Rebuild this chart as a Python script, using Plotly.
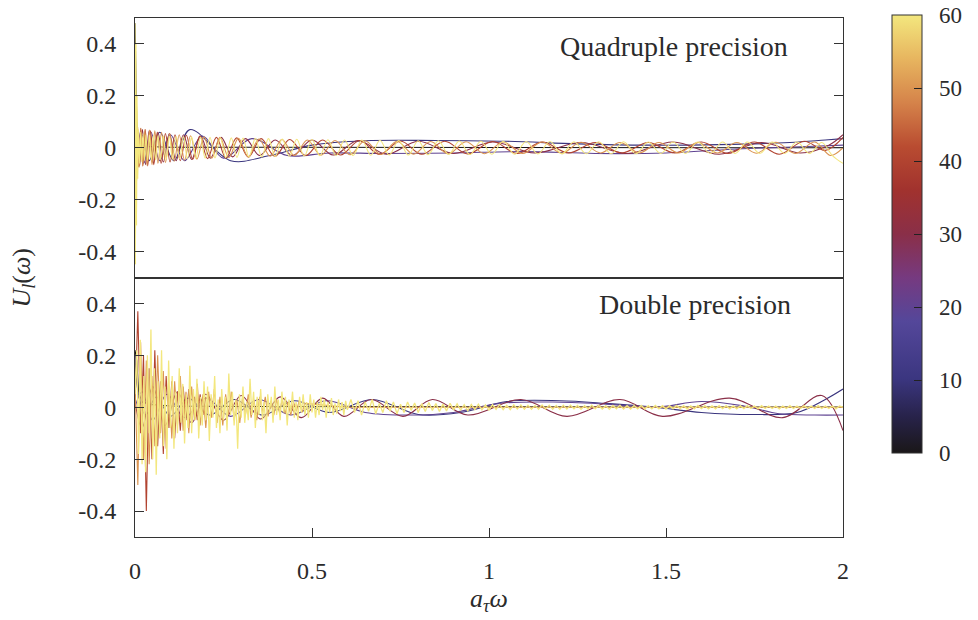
import numpy as np
import plotly.graph_objects as go
from plotly.subplots import make_subplots
from plotly.colors import sample_colorscale

# ---------------- data ----------------
L_MAX = 60
cbar_ticks = [0, 10, 20, 30, 40, 50, 60]
x_ticks = [0, 0.5, 1, 1.5, 2]
x_ticktext = ["0", "0.5", "1", "1.5", "2"]
y_ticks = [-0.4, -0.2, 0, 0.2, 0.4]
y_ticktext = ["-0.4", "-0.2", "0", "0.2", "0.4"]

# colour map (black -> blue -> purple -> red -> orange -> yellow)
cmap = [[0.0, "#1a1718"], [0.08, "#272248"], [0.17, "#3b3680"], [0.3, "#54479a"],
        [0.4, "#763a80"], [0.5, "#8a2f48"], [0.6, "#a1322e"], [0.7, "#b94c31"],
        [0.8, "#d5834a"], [0.9, "#e7b55f"], [1.0, "#f3e77e"]]

# ---- Quadruple precision panel: (l, x of extrema, y of extrema) ----
q0_x = [0, 0.002, 0.005, 0.01, 0.03, 0.1, 0.5, 1.0, 1.5, 2.0]
q0_y = [0.48, 0.3, 0.1, 0.02, 0.005, 0.002, 0.001, 0.0, 0.0, 0.0]

q10_x = [0.0, 0.008, 0.02, 0.04, 0.07, 0.11, 0.155, 0.27, 0.38, 0.5, 0.65, 0.85,
         1.05, 1.25, 1.45, 1.65, 1.85, 1.95, 2.0]
q10_y = [0.1, -0.03, 0.05, -0.05, 0.06, -0.05, 0.07, -0.05, -0.03, 0.01, 0.027, 0.028,
         0.025, 0.015, 0.01, 0.012, 0.02, 0.03, 0.035]

q20_x = [0, 0.01, 0.025, 0.045, 0.07, 0.1, 0.14, 0.19, 0.25, 0.33, 0.43, 0.55, 0.7,
         0.9, 1.1, 1.3, 1.5, 1.7, 1.9, 2.0]
q20_y = [-0.1, 0.06, -0.06, 0.06, -0.05, 0.05, -0.05, 0.045, -0.04, 0.035, -0.03, -0.02,
         -0.022, -0.02, -0.015, -0.022, -0.02, -0.005, 0.005, 0.01]

q30_x = [0, .006, .013, .021, .03, .04, .052, .065, .08, .097, .116, .137, .16, .185,
         .213, .243, .276, .312, .352, .396, .445, .5, .56, .63, .71, .8, .9, 1.01, 1.13,
         1.26, 1.39, 1.52, 1.65, 1.77, 1.88, 1.96, 2.0]
q30_y = [0.0, .07, -.07, .07, -.065, .065, -.06, .06, -.055, .055, -.05, .05, -.045, .045,
         -.04, .04, -.035, .035, -.03, .03, -.03, .03, -.028, .028, -.025, .025, -.022, .022,
         -.02, .02, -.022, .022, -.025, .02, -.02, .01, .05]

q40_x = [0, .005, .01, .016, .022, .029, .036, .044, .053, .063, .074, .086, .099, .113,
         .128, .145, .163, .183, .205, .23, .257, .287, .32, .356, .395, .437, .482, .53,
         .58, .635, .69, .75, .81, .875, .94, 1.01, 1.08, 1.15, 1.225, 1.3, 1.375, 1.45,
         1.525, 1.6, 1.675, 1.75, 1.82, 1.89, 1.95, 2.0]
q40_y = [-0.1, .075, -.075, .075, -.07, .07, -.07, .065, -.065, .06, -.06, .055, -.055, .05,
         -.05, .048, -.045, .045, -.042, .04, -.04, .038, -.036, .035, -.033, .032, -.03, .03,
         -.028, .028, -.026, .026, -.025, .025, -.024, .024, -.022, .022, -.02, .02, -.02, .02,
         -.02, .022, -.022, .022, -.025, .025, -.01, .04]

q50_x = [0, .004, .008, .012, .017, .022, .028, .034, .041, .048, .056, .065, .075, .086,
         .098, .111, .125, .14, .157, .175, .195, .217, .24, .265, .292, .32, .35, .382,
         .415, .45, .487, .525, .565, .607, .65, .695, .74, .787, .835, .885, .935, .987,
         1.04, 1.095, 1.15, 1.205, 1.26, 1.315, 1.37, 1.425, 1.48, 1.535, 1.59, 1.645, 1.7,
         1.755, 1.81, 1.865, 1.92, 1.965, 2.0]
q50_y = [0.2, -.15, .08, -.075, .075, -.07, .07, -.068, .068, -.065, .065, -.06, .06, -.057,
         .055, -.052, .05, -.048, .046, -.044, .042, -.04, .04, -.038, .036, -.035, .034,
         -.033, .032, -.03, .03, -.029, .028, -.027, .027, -.026, .025, -.025, .024, -.024,
         .023, -.023, .022, -.022, .022, -.021, .021, -.02, .02, -.02, .02, -.02, .02, -.02,
         .02, -.021, .021, -.022, .022, -.03, 0.0]

q60_x = [0, .0015, .003, .0045, .006, .008, .01, .013, .016, .019,
         .023, .027, .031, .036, .041, .046, .052, .058, .065, .072,
         .08, .088, .097, .106, .116, .126, .137, .148, .16, .172,
         .185, .198, .212, .226, .241, .256, .272, .288, .305, .322,
         .34, .358, .377, .396, .416, .436, .457, .478, .5, .522,
         .545, .568, .592, .616, .641, .666, .692, .718, .745, .772,
         .8, .828, .857, .886, .916, .946, .977, 1.008, 1.04, 1.072,
         1.105, 1.138, 1.172, 1.206, 1.24, 1.275, 1.31, 1.345, 1.38, 1.415,
         1.45, 1.485, 1.52, 1.555, 1.59, 1.625, 1.66, 1.695, 1.73, 1.765,
         1.8, 1.835, 1.87, 1.905, 1.94, 1.97, 2.0]
q60_y = [0.48, -0.45, 0.4, -0.3, 0.2, -0.12, 0.07, -0.06, 0.06, -0.055,
         .055, -.05, .05, -.05, .05, -.048, .048, -.047, .047, -.046,
         .046, -.045, .045, -.044, .044, -.043, .043, -.042, .042, -.041,
         .041, -.04, .04, -.039, .039, -.038, .038, -.037, .037, -.036,
         .036, -.035, .035, -.034, .034, -.033, .033, -.032, .032, -.031,
         .031, -.03, .03, -.03, .03, -.029, .029, -.028, .028, -.028,
         .027, -.027, .027, -.026, .026, -.026, .025, -.025, .025, -.025,
         .024, -.024, .024, -.024, .023, -.023, .023, -.023, .023, -.023,
         .022, -.022, .022, -.022, .022, -.022, .022, -.022, .022, -.022,
         .022, -.022, .022, -.022, .02, -.03, -.06]

# ---- Double precision panel ----
d0_x = [0, 0.005, 0.01, 0.02, 0.05, 0.1, 0.3, 0.6, 1.0, 1.5, 2.0]
d0_y = [0.22, 0.18, 0.06, 0.02, 0.01, 0.005, 0.003, 0.002, 0.001, 0.001, 0.001]

d10_x = [0.0, 0.01, 0.03, 0.06, 0.1, 0.15, 0.21, 0.28, 0.36, 0.45, 0.55, 0.67, 0.8, 0.92,
         1.05, 1.2, 1.33, 1.47, 1.6, 1.75, 1.87, 1.95, 2.0]
d10_y = [0.2, 0.05, -0.03, 0.04, -0.035, 0.035, -0.03, 0.03, -0.03, 0.025, -0.02, 0.03,
         -0.028, -0.02, 0.022, 0.025, 0.015, 0.0, -0.02, -0.028, -0.02, 0.03, 0.07]

d20_x = [0.0, 0.02, 0.05, 0.09, 0.14, 0.2, 0.27, 0.35, 0.44, 0.54, 0.65, 0.78, 0.9, 1.03,
         1.18, 1.33, 1.47, 1.6, 1.72, 1.82, 1.92, 2.0]
d20_y = [0.0, 0.06, -0.05, 0.05, -0.04, 0.035, -0.035, 0.03, -0.03, 0.025, -0.02, -0.03,
         -0.02, 0.015, 0.02, 0.012, 0.0, 0.022, 0.005, -0.025, -0.03, -0.03]

d30_x = [0.0, 0.02, 0.05, 0.085, 0.12, 0.16, 0.2, 0.25, 0.3, 0.355, 0.41, 0.47, 0.53, 0.59,
         0.667, 0.757, 0.84, 0.94, 1.09, 1.22, 1.37, 1.49, 1.68, 1.83, 1.94, 2.0]
d30_y = [0.02, -0.08, 0.08, -0.07, 0.06, -0.06, 0.05, -0.05, 0.045, -0.045, 0.04, -0.04,
         0.035, -0.035, 0.03, -0.035, 0.03, -0.03, 0.03, -0.035, 0.03, -0.035, 0.035, -0.04,
         0.045, -0.09]

# noisy (round-off dominated) curves, sampled on a uniform grid
d40_noise = [0.0, 0.37, -0.1, 0.2, -0.4, 0.15, -0.2, 0.22, -0.15, 0.1, -0.18, 0.12, -0.08,
             0.1, -0.12, 0.06, -0.09, 0.08, -0.05, 0.07, -0.06, 0.04, -0.05, 0.05, -0.03, 0.04]
d40_noise_end = 0.2

d50_noise = [0.1, -0.3, 0.25, -0.2, 0.18, -0.22, 0.12, -0.15, 0.2, -0.1, 0.14, -0.16, 0.08,
             -0.12, 0.1, -0.07, 0.12, -0.09, 0.06, -0.1, 0.08, -0.05, 0.09, -0.07, 0.05, -0.08,
             0.06, -0.04, 0.07, -0.06, 0.04, -0.07, 0.05, -0.03, 0.06, -0.05, 0.03, -0.06, 0.04,
             -0.03, 0.05, -0.04, 0.03, -0.05, 0.04, -0.02, 0.04, -0.035, 0.025, -0.03, 0.03,
             -0.02, 0.03, -0.025, 0.02, -0.03, 0.02, -0.015, 0.025, -0.02, 0.015]
d50_noise_end = 0.48

d60_noise = [0.05, 0.22, -0.18, 0.26, -0.22, 0.12, -0.25, 0.2, -0.1, 0.3,
             -0.2, 0.15, -0.26, 0.1, -0.12, 0.22, -0.15, 0.08, -0.2, 0.18,
             -0.08, 0.12, -0.16, 0.06, -0.1, 0.15, -0.06, 0.09, -0.14, 0.05,
             -0.08, 0.16, -0.1, 0.07, -0.05, 0.11, -0.12, 0.04, -0.07, 0.1,
             -0.05, 0.08, -0.13, 0.05, -0.04, 0.12, -0.08, 0.03, -0.1, 0.07,
             -0.05, 0.04, -0.09, 0.13, -0.03, 0.06, -0.07, 0.03, -0.16, 0.05,
             -0.04, 0.08, -0.06, 0.02, -0.05, 0.11, -0.03, 0.06, -0.08, 0.04,
             -0.03, 0.07, -0.05, 0.02, -0.1, 0.05, -0.02, 0.04, -0.06, 0.08,
             -0.03, 0.03, -0.05, 0.06, -0.02, 0.04, -0.07, 0.03, -0.02, 0.06,
             -0.04, 0.02, -0.05, 0.04, -0.02, 0.05, -0.03, 0.02, -0.04, 0.05,
             -0.02, 0.03, -0.04, 0.02, -0.03, 0.04, -0.01, 0.03, -0.04, 0.02,
             -0.02, 0.035, -0.03, 0.015, -0.025, 0.03, -0.015, 0.02, -0.03, 0.025,
             -0.01]
d60_noise_end = 0.6
d60_tail = [0.03, -0.02, 0.025, -0.03, 0.02, -0.015, 0.03, -0.025, 0.015, -0.02,
            0.025, -0.015, 0.02, -0.025, 0.012, -0.02, 0.02, -0.012, 0.016, -0.02,
            0.014, -0.016, 0.018, -0.012, 0.014, -0.016, 0.012, -0.014, 0.015, -0.01,
            0.013, -0.011, 0.01, -0.013, 0.011, -0.009, 0.012, -0.01, 0.009, -0.011,
            0.01, -0.008, 0.01, -0.009, 0.008, -0.009, 0.009, -0.007, 0.009, -0.008,
            0.008, -0.008, 0.007, -0.008, 0.009, -0.007, 0.008, -0.008, 0.007, -0.008,
            0.008, -0.007, 0.008, -0.006, 0.007, -0.008, 0.006, -0.007, 0.008, -0.006,
            0.007, -0.007, 0.006, -0.008, 0.007, -0.006, 0.008, -0.007, 0.006, -0.007,
            0.007, -0.006, 0.007, -0.007, 0.006, -0.006, 0.007, -0.006, 0.006, -0.007,
            0.006, -0.006, 0.007, -0.005, 0.006, -0.007, 0.005, -0.006, 0.007, -0.005,
            0.006, -0.006, 0.005, -0.006, 0.006, -0.005, 0.006, -0.006, 0.005, -0.006,
            0.006, -0.005, 0.006, -0.005, 0.005, -0.006, 0.006, -0.005, 0.005, -0.005,
            0.005, -0.006, 0.005, -0.005, 0.006, -0.005, 0.005, -0.005, 0.006, -0.005,
            0.005, -0.005, 0.006, -0.005, 0.005, -0.005, 0.005, -0.006, 0.005, 0.0]
d60_tail_start, d60_tail_end = 0.61, 2.0

# ---------------- figure ----------------
W, H = 978, 620
ML, MR, MT, MB = 135, 135, 18, 83
FONT = "Liberation Serif"
TXT = "#2b2b2b"
NBSP = "\u00a0"


def col(l):
    return sample_colorscale(cmap, [l / L_MAX])[0]


fig = make_subplots(rows=2, cols=1, shared_xaxes=True, vertical_spacing=0.0)

top = [(0, q0_x, q0_y, "linear"), (10, q10_x, q10_y, "spline"), (20, q20_x, q20_y, "spline"),
       (30, q30_x, q30_y, "spline"), (40, q40_x, q40_y, "spline"), (50, q50_x, q50_y, "spline"),
       (60, q60_x, q60_y, "spline")]
for l, xs, ys, shp in top:
    fig.add_trace(go.Scatter(x=xs, y=ys, mode="lines", line=dict(color=col(l), width=1.1, shape=shp),
                             showlegend=False, hoverinfo="skip"), row=1, col=1)

# bottom panel
fig.add_trace(go.Scatter(x=d0_x, y=d0_y, mode="lines", line=dict(color=col(0), width=1.1),
                         showlegend=False, hoverinfo="skip"), row=2, col=1)
for l, xs, ys in [(10, d10_x, d10_y), (20, d20_x, d20_y), (30, d30_x, d30_y)]:
    fig.add_trace(go.Scatter(x=xs, y=ys, mode="lines", line=dict(color=col(l), width=1.1, shape="spline"),
                             showlegend=False, hoverinfo="skip"), row=2, col=1)

fig.add_trace(go.Scatter(x=np.linspace(0, d40_noise_end, len(d40_noise)), y=d40_noise, mode="lines",
                         line=dict(color=col(40), width=1.1), showlegend=False, hoverinfo="skip"),
              row=2, col=1)
x50 = list(np.linspace(0, d50_noise_end, len(d50_noise))) + [0.6, 1.0, 2.0]
y50 = d50_noise + [0.0, 0.0, 0.0]
fig.add_trace(go.Scatter(x=x50, y=y50, mode="lines", line=dict(color=col(50), width=1.1),
                         showlegend=False, hoverinfo="skip"), row=2, col=1)
x60 = list(np.linspace(0, d60_noise_end, len(d60_noise))) + \
    list(np.linspace(d60_tail_start, d60_tail_end, len(d60_tail)))
y60 = d60_noise + d60_tail
fig.add_trace(go.Scatter(x=x60, y=y60, mode="lines", line=dict(color=col(60), width=1.3),
                         showlegend=False, hoverinfo="skip"), row=2, col=1)

# colour bar carrier
cb_top, cb_bot = 15, 453
plot_h = H - MT - MB
plot_w = W - ML - MR
cb_len = cb_bot - cb_top
cb_yc = (H - MB - (cb_top + cb_bot) / 2) / plot_h
cb_x = (892 - ML) / plot_w
fig.add_trace(go.Scatter(
    x=[None, None], y=[None, None], mode="markers", showlegend=False, hoverinfo="skip",
    marker=dict(color=[0, L_MAX], colorscale=cmap, cmin=0, cmax=L_MAX, showscale=True,
                colorbar=dict(x=cb_x, xanchor="left", xref="paper", y=cb_yc, yanchor="middle",
                              len=cb_len, lenmode="pixels", thickness=30, thicknessmode="pixels",
                              xpad=0, ypad=0,
                              outlinecolor="#333", outlinewidth=1,
                              tickvals=cbar_ticks, ticktext=[NBSP * 2 + str(t) for t in cbar_ticks],
                              ticks="inside", ticklen=8, tickwidth=1.2, tickcolor="#222",
                              tickfont=dict(family=FONT, size=23, color=TXT)))), row=1, col=1)

axcommon = dict(showgrid=False, zeroline=False, showline=True, linecolor="#333", linewidth=1,
                tickfont=dict(family=FONT, size=24, color=TXT))
fig.update_xaxes(range=[0, 2], mirror=True, ticks="", **axcommon, row=1, col=1)
fig.update_xaxes(range=[0, 2], mirror=True, ticks="inside", ticklen=9, tickcolor="#333",
                 tickvals=x_ticks, ticktext=x_ticktext, ticklabelstandoff=12, **axcommon, row=2, col=1)
fig.update_yaxes(range=[-0.5, 0.5], mirror="ticks", ticks="inside", ticklen=9, tickcolor="#333",
                 tickvals=y_ticks, ticktext=y_ticktext, ticklabelstandoff=13, **axcommon, row=1, col=1)
fig.update_yaxes(range=[-0.5, 0.5], mirror=True, ticks="inside", ticklen=9, tickcolor="#333",
                 tickvals=y_ticks, ticktext=y_ticktext, ticklabelstandoff=13, **axcommon, row=2, col=1)

fig.add_annotation(text="Quadruple precision", xref="x", yref="y", x=1.85, y=0.39, xanchor="right",
                   yanchor="middle", showarrow=False, font=dict(family=FONT, size=28, color=TXT))
fig.add_annotation(text="Double precision", xref="x2", yref="y2", x=1.86, y=0.396, xanchor="right",
                   yanchor="middle", showarrow=False, font=dict(family=FONT, size=28, color=TXT))
fig.add_annotation(text="<i>U<sub>l</sub></i>(<i>ω</i>)", xref="paper", yref="paper",
                   x=(22 - ML) / plot_w, y=0.5, xanchor="center", yanchor="middle",
                   textangle=-90, showarrow=False, font=dict(family=FONT, size=26, color=TXT))
fig.add_annotation(text="<i>a<sub>τ</sub>ω</i>", xref="paper", yref="paper", x=0.5,
                   y=(H - MB - 600) / plot_h, showarrow=False, yanchor="middle",
                   font=dict(family=FONT, size=26, color=TXT))

fig.update_layout(width=W, height=H, margin=dict(l=ML, r=MR, t=MT, b=MB, autoexpand=False),
                  plot_bgcolor="white", paper_bgcolor="white", showlegend=False)

fig.write_html("out.html")
